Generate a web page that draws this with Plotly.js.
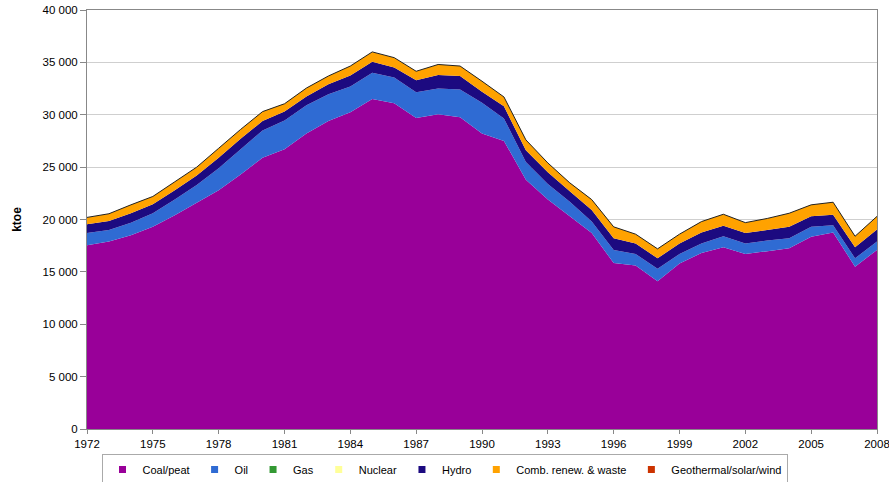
<!DOCTYPE html>
<html>
<head>
<meta charset="utf-8">
<script src="https://cdn.plot.ly/plotly-3.0.1.min.js"></script>
<style>html,body{margin:0;padding:0;background:#fff;}#chart{width:889px;height:482px;}</style>
</head>
<body>
<div id="chart"></div>
<script>
const years = [1972,1973,1974,1975,1976,1977,1978,1979,1980,1981,1982,1983,1984,1985,1986,1987,1988,1989,1990,1991,1992,1993,1994,1995,1996,1997,1998,1999,2000,2001,2002,2003,2004,2005,2006,2007,2008];

const coalPeat = [17550,17900,18500,19300,20400,21600,22800,24300,25900,26700,28200,29400,30250,31500,31100,29700,30050,29750,28200,27500,23800,21900,20300,18700,15850,15600,14100,15800,16800,17350,16700,17000,17250,18350,18750,15500,17100];
const oil      = [1150,1100,1200,1300,1500,1700,2100,2400,2600,2750,2700,2550,2450,2500,2450,2450,2450,2650,2950,2150,1700,1500,1400,1100,1250,1100,1200,900,900,1050,1000,1000,950,950,700,800,800];
const gas      = [0,0,0,0,0,0,0,0,0,0,0,0,0,0,0,0,0,0,0,0,0,0,0,0,0,0,0,0,0,0,0,0,0,0,0,0,0];
const nuclear  = [0,0,0,0,0,0,0,0,0,0,0,0,0,0,0,0,0,0,0,0,0,0,0,0,0,0,0,0,0,0,0,0,0,0,0,0,0];
const hydro    = [850,850,900,850,900,900,1000,1000,900,850,850,950,1050,1050,950,1150,1300,1300,1050,1150,1100,1100,1000,1100,1100,1000,1000,1000,1050,1000,1000,1000,1100,1000,1000,1050,1150];
const renew    = [650,700,800,750,800,800,900,900,900,750,800,800,900,950,950,850,1000,950,1000,900,1000,900,800,1000,1100,900,900,900,1050,1100,1000,1100,1300,1100,1200,1050,1250];
const geoSolarWind = [0,0,0,0,0,0,0,0,0,0,0,0,0,0,0,0,0,0,0,0,0,0,0,0,0,0,0,0,0,0,0,0,0,0,0,0,0];

const seriesNames = ["Coal/peat","Oil","Gas","Nuclear","Hydro","Comb. renew. & waste","Geothermal/solar/wind"];
const seriesValues = [coalPeat, oil, gas, nuclear, hydro, renew, geoSolarWind];
const seriesColors = ["#990099","#2f6bd3","#339933","#ffff99","#1c0a80","#ffa200","#cc3300"];

const yTickVals = [0,5000,10000,15000,20000,25000,30000,35000,40000];
const yTickText = ["0","5 000","10 000","15 000","20 000","25 000","30 000","35 000","40 000"];
const xTickVals = [1972,1975,1978,1981,1984,1987,1990,1993,1996,1999,2002,2005,2008];

const traces = [];
seriesNames.forEach((name, i) => {
  const last = i === seriesNames.length - 1;
  traces.push({
    type: 'scatter', mode: 'lines', x: years, y: seriesValues[i],
    name: name, stackgroup: 'one', fillcolor: seriesColors[i],
    line: last ? {color: '#222', width: 1} : {color: seriesColors[i], width: 0},
    showlegend: false, hoverinfo: 'x+y+name'
  });
});
seriesNames.forEach((name, i) => {
  traces.push({
    type: 'scatter', mode: 'markers', x: [null], y: [null], name: name,
    marker: {symbol: 'square', size: 7, color: seriesColors[i], line: {width: 0}},
    showlegend: true, hoverinfo: 'skip'
  });
});

const layout = {
  width: 889, height: 482,
  margin: {l: 87, r: 12, t: 10, b: 53},
  paper_bgcolor: '#fff', plot_bgcolor: '#fff',
  font: {family: 'Liberation Sans, Arial, sans-serif', size: 11, color: '#000'},
  showlegend: true,
  legend: {
    orientation: 'h', traceorder: 'normal',
    xref: 'container', yref: 'container',
    x: 0.5, xanchor: 'center', y: 0.058, yanchor: 'top',
    bordercolor: '#aaa', borderwidth: 1, font: {size: 11},
    itemwidth: 30, tracegroupgap: 0
  },
  xaxis: {
    range: [1972, 2008], tickvals: xTickVals, ticks: 'outside', ticklen: 4,
    tickcolor: '#888', showgrid: false, showline: true, linecolor: '#888',
    mirror: true, zeroline: false, tickfont: {size: 11.5},
    ticklabeloverflow: 'allow', automargin: false
  },
  yaxis: {
    range: [0, 40000], tickvals: yTickVals, ticktext: yTickText,
    ticks: 'outside', ticklen: 6, tickcolor: '#888',
    showgrid: true, gridcolor: '#cfcfcf', gridwidth: 1,
    showline: true, linecolor: '#888', mirror: true, zeroline: false,
    tickfont: {size: 11.5}, automargin: false,
    title: {text: '<b>ktoe</b>', font: {size: 12}, standoff: 18}
  }
};

Plotly.newPlot('chart', traces, layout, {displayModeBar: false, staticPlot: true});
</script>
</body>
</html>
